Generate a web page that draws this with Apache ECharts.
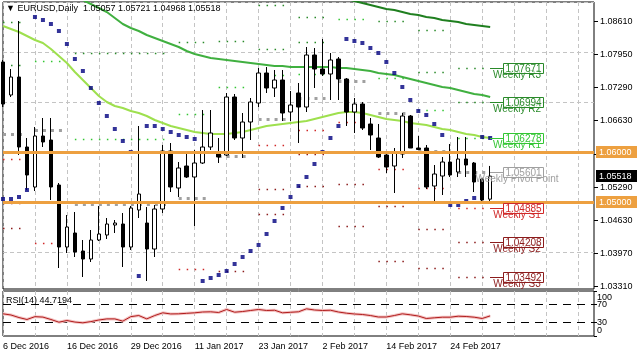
<!DOCTYPE html>
<html><head><meta charset="utf-8">
<script src="https://cdn.jsdelivr.net/npm/echarts@6/dist/echarts.min.js"></script>
<style>html,body{margin:0;padding:0;background:#fff}#c{width:637px;height:358px}</style>
</head><body><div id="c"></div>
<script>
// ---------------- DATA ----------------
const symbolName = 'EURUSD,Daily';
const categories = ['6 Dec 2016','7 Dec 2016','8 Dec 2016','9 Dec 2016','12 Dec 2016','13 Dec 2016','14 Dec 2016','15 Dec 2016','16 Dec 2016','19 Dec 2016',
 '20 Dec 2016','21 Dec 2016','22 Dec 2016','23 Dec 2016','27 Dec 2016','28 Dec 2016','29 Dec 2016','30 Dec 2016','3 Jan 2017','4 Jan 2017',
 '5 Jan 2017','6 Jan 2017','9 Jan 2017','10 Jan 2017','11 Jan 2017','12 Jan 2017','13 Jan 2017','16 Jan 2017','17 Jan 2017','18 Jan 2017',
 '19 Jan 2017','20 Jan 2017','23 Jan 2017','24 Jan 2017','25 Jan 2017','26 Jan 2017','27 Jan 2017','30 Jan 2017','31 Jan 2017','1 Feb 2017',
 '2 Feb 2017','3 Feb 2017','6 Feb 2017','7 Feb 2017','8 Feb 2017','9 Feb 2017','10 Feb 2017','13 Feb 2017','14 Feb 2017','15 Feb 2017',
 '16 Feb 2017','17 Feb 2017','20 Feb 2017','21 Feb 2017','22 Feb 2017','23 Feb 2017','24 Feb 2017','27 Feb 2017','28 Feb 2017','1 Mar 2017',
 '2 Mar 2017','3 Mar 2017','6 Mar 2017','7 Mar 2017','8 Mar 2017','9 Mar 2017','10 Mar 2017','13 Mar 2017','14 Mar 2017','15 Mar 2017',
 '16 Mar 2017','17 Mar 2017','20 Mar 2017','21 Mar 2017','22 Mar 2017'];
const dateLabels = ['6 Dec 2016','16 Dec 2016','29 Dec 2016','11 Jan 2017','23 Jan 2017','2 Feb 2017','14 Feb 2017','24 Feb 2017'];

const opens = [1.0780,1.0714,1.0750,1.0610,1.0530,1.0632,1.0624,1.0534,1.0410,1.0438,
 1.0402,1.0386,1.0424,1.0434,1.0454,1.0456,1.0410,1.0484,1.0458,1.0406,
 1.0486,1.0602,1.0528,1.0572,1.0550,1.0578,1.0610,1.0598,1.0594,1.0710,
 1.0628,1.0660,1.0698,1.0758,1.0728,1.0744,1.0680,1.0718,1.0690,1.0794,
 1.0766,1.0756,1.0786,1.0746,1.0680,1.0696,1.0656,1.0628,1.0594,1.0572,
 1.0596,1.0672,1.0608,1.0608,1.0532,1.0552,1.0580,1.0560,1.0586,1.0578,
 1.0546,1.05057];
const closes = [1.0696,1.0750,1.0610,1.0554,1.0632,1.0620,1.0530,1.0410,1.0450,1.0400,
 1.0386,1.0424,1.0436,1.0456,1.0458,1.0410,1.0488,1.0516,1.0406,1.0486,
 1.0602,1.0530,1.0568,1.0550,1.0578,1.0610,1.0638,1.0590,1.0710,1.0628,
 1.0660,1.0700,1.0758,1.0728,1.0744,1.0678,1.0694,1.0690,1.0794,1.0766,
 1.0756,1.0784,1.0746,1.0680,1.0696,1.0648,1.0634,1.0590,1.0570,1.0598,
 1.0672,1.0608,1.0605,1.0530,1.0556,1.0580,1.0554,1.0586,1.0574,1.0540,
 1.0504,1.05518];
const lows = [1.0690,1.0710,1.0594,1.0524,1.0522,1.0610,1.0504,1.0368,1.0398,1.0390,
 1.0350,1.0380,1.0422,1.0426,1.0438,1.0370,1.0404,1.0468,1.0342,1.0390,
 1.0478,1.0520,1.0510,1.0548,1.0452,1.0576,1.0604,1.0578,1.0592,1.0624,
 1.0588,1.0624,1.0690,1.0718,1.0710,1.0662,1.0662,1.0618,1.0680,1.0728,
 1.0752,1.0704,1.0704,1.0652,1.0638,1.0644,1.0604,1.0588,1.0558,1.0518,
 1.0588,1.0608,1.0604,1.0526,1.0502,1.0514,1.0550,1.0550,1.0550,1.0520,
 1.0502,1.04968];
const highs = [1.0784,1.0766,1.0862,1.0628,1.0650,1.0668,1.0668,1.0538,1.0474,1.0480,
 1.0424,1.0444,1.0492,1.0468,1.0464,1.0478,1.0492,1.0652,1.0490,1.0494,
 1.0614,1.0618,1.0580,1.0600,1.0604,1.0684,1.0684,1.0628,1.0718,1.0716,
 1.0678,1.0708,1.0768,1.0770,1.0764,1.0764,1.0722,1.0738,1.0810,1.0808,
 1.0826,1.0798,1.0790,1.0748,1.0708,1.0700,1.0668,1.0656,1.0600,1.0608,
 1.0678,1.0674,1.0632,1.0614,1.0574,1.0590,1.0616,1.0630,1.0630,1.0580,
 1.0548,1.05721];

const sar = [1.0506,1.0506,1.0510,1.0524,1.0870,1.0864,1.0856,1.0842,1.0816,1.0786,
 1.0762,1.0728,1.0698,1.0672,1.0646,1.0622,1.0600,1.0352,1.0652,1.0652,
 1.0646,1.0640,1.0634,1.0630,1.0626,1.0342,1.0348,1.0354,1.0362,1.0376,
 1.0390,1.0402,1.0414,1.0436,1.0462,1.0488,1.0510,1.0532,1.0550,1.0576,
 1.0600,1.0628,1.0652,1.0826,1.0822,1.0818,1.0808,1.0798,1.0780,1.0758,
 1.0730,1.0704,1.0682,1.0674,1.0656,1.0634,1.0494,1.0494,1.0502,1.0508,
 1.0630,1.0628];

const maFast = [1.0852,1.0846,1.0840,1.0832,1.0824,1.0818,1.0806,1.0792,1.0778,1.0760,
 1.0744,1.0728,1.0712,1.0700,1.0692,1.0688,1.0682,1.0678,1.0672,1.0664,
 1.0658,1.0652,1.0648,1.0644,1.0640,1.0638,1.0636,1.0636,1.0636,1.0638,
 1.0640,1.0644,1.0648,1.0652,1.0654,1.0656,1.0658,1.0660,1.0662,1.0666,
 1.0670,1.0674,1.0678,1.0680,1.0680,1.0678,1.0674,1.0670,1.0666,1.0664,
 1.0662,1.0658,1.0656,1.0654,1.0650,1.0646,1.0644,1.0640,1.0636,1.0634,
 1.0630,1.0628];
const maMid = [null,null,null,null,null,null,null,null,null,1.0910,
 1.0904,1.0896,1.0888,1.0880,1.0868,1.0856,1.0848,1.0842,1.0834,1.0828,
 1.0822,1.0816,1.0810,1.0802,1.0796,1.0792,1.0788,1.0786,1.0784,1.0782,
 1.0780,1.0778,1.0776,1.0774,1.0772,1.0772,1.0770,1.0770,1.0770,1.0770,
 1.0770,1.0770,1.0768,1.0768,1.0766,1.0764,1.0762,1.0758,1.0756,1.0754,
 1.0750,1.0746,1.0742,1.0738,1.0734,1.0730,1.0728,1.0724,1.0720,1.0716,
 1.0714,1.0710];
const maSlow = [null,null,null,null,null,null,null,null,null,null,
 null,null,null,null,null,null,null,null,null,null,
 null,null,null,null,null,null,null,null,null,null,
 null,null,null,null,null,null,null,null,null,null,
 null,null,1.0910,1.0906,1.0902,1.0898,1.0894,1.0890,1.0886,1.0884,
 1.0880,1.0876,1.0874,1.0870,1.0868,1.0864,1.0862,1.0860,1.0856,1.0854,
 1.0852,1.0850];

const rsi = [49.3,46.7,41.0,36.7,43.0,42.0,36.7,30.7,34.4,31.0,
 29.3,32.0,35.5,38.0,38.0,33.0,43.0,45.5,38.0,45.5,
 51.5,49.0,49.3,50.4,51.5,53.3,53.8,52.2,58.9,52.9,
 54.4,56.7,58.9,56.7,57.3,51.5,52.7,53.8,60.4,57.8,
 56.7,57.3,53.3,50.7,48.9,47.8,45.5,42.2,42.2,45.5,
 49.3,47.1,44.4,38.9,40.4,41.8,41.8,44.0,43.3,41.8,
 38.9,44.7194];

// weekly pivot segments (first bar, last bar of each week)
const pivotStarts = [0,4,9,22,27,32,37,42,47,52,57];
const pivotEnds   = [3,8,21,26,31,36,41,46,51,56,61];
const pivR3 = [1.0860,null,null,null,null,1.0894,1.0870,null,null,1.0844,1.07671];
const pivR2 = [1.0774,null,1.0798,1.0820,1.0822,1.0806,1.0820,null,1.0862,1.0760,1.06994];
const pivR1 = [1.0724,1.0782,1.0626,1.0676,1.0730,1.0754,1.0756,1.0866,1.0748,1.0684,1.06278];
const pivPP = [1.0636,1.0644,1.0496,1.0508,1.0592,1.0666,1.0708,1.0742,1.0678,1.0602,1.05601];
const pivS1 = [1.0586,1.0418,null,1.0366,1.0500,1.0614,1.0644,1.0660,1.0566,1.0528,1.04885];
const pivS2 = [1.0498,null,null,null,1.0362,1.0526,1.0596,1.0536,1.0492,1.0446,1.04208];
const pivS3 = [1.0448,null,null,null,null,1.0476,1.0532,1.0452,1.0382,1.0368,1.03492];
const pivotLabelValues = [1.07671,1.06994,1.06278,1.05601,1.04885,1.04208,1.03492];
const pivotLabelNames = ['Weekly R3','Weekly R2','Weekly R1','Weekly Pivot Point','Weekly S1','Weekly S2','Weekly S3'];

const priceTicks = [1.0331,1.0397,1.0463,1.0529,1.0596,1.0663,1.0729,1.0795,1.0861];
const priceLabelTicks = [1.0331,1.0397,1.0463,1.0529,1.0663,1.0729,1.0795,1.0861];
const roundLevels = [1.06000,1.05000];
const lastPrice = 1.05518;
const rsiTicks = [0,30,70,100];
const rsiLevels = [30,70];

// ---------------- CHART ----------------
const FONT = '"Liberation Sans", Arial, sans-serif';
const last = closes.length - 1;
const lastCat = categories.length - 1;
const pivotColors = ['#2a8a2a','#2a8a2a','#33c633','#a0a0a0','#d02828','#8c1c1c','#8c1c1c'];
const pivotLevels = [pivR3,pivR2,pivR1,pivPP,pivS1,pivS2,pivS3];
const segData = [];
pivotLevels.forEach((arr, li) => arr.forEach((v, wi) => {
  if (v != null) segData.push([pivotStarts[wi], pivotEnds[wi], v, li]);
}));
const candleData = opens.map((o, i) => [o, closes[i], lows[i], highs[i]]);
const mainTitle = '\u25BC ' + symbolName + '  ' +
  [opens[last], highs[last], lows[last], closes[last]].map(v => v.toFixed(5)).join(' ');
const tagData = roundLevels.map(v => [lastCat, v, 0]).concat([[lastCat, lastPrice, 1]]);
const tagColors = ['#eda040', '#000000'];

const chart = echarts.init(document.getElementById('c'), null, {renderer: 'canvas'});
const gridLine = {color: '#c4c4c4', type: [4, 3], width: 1};
const rsiLabelShift = {100: 7, 70: 0, 30: 0, 0: -5};

chart.setOption({
  animation: false,
  backgroundColor: '#fff',
  textStyle: {fontFamily: FONT},
  title: [
    {text: mainTitle, left: 6, top: 4, padding: 0,
     textStyle: {fontSize: 9, fontWeight: 'normal', color: '#000', fontFamily: FONT}},
    {text: 'RSI(14) ' + rsi[last].toFixed(4), left: 6, top: 296, padding: 0,
     textStyle: {fontSize: 9, fontWeight: 'normal', color: '#000', fontFamily: FONT}}
  ],
  grid: [
    {left: 3, right: 43, top: 2, height: 287, show: true, borderColor: '#000', borderWidth: 1, backgroundColor: '#fff'},
    {left: 3, right: 43, top: 291, height: 45, show: true, borderColor: '#000', borderWidth: 1, backgroundColor: '#fff'}
  ],
  xAxis: [
    {gridIndex: 0, type: 'category', data: categories, boundaryGap: false,
     axisLine: {show: false}, axisTick: {show: false}, axisLabel: {show: false},
     splitLine: {show: true, interval: 3, lineStyle: gridLine}},
    {gridIndex: 1, type: 'category', data: categories, boundaryGap: false,
     axisLine: {show: false}, axisTick: {show: false},
     axisLabel: {show: true, interval: (idx, val) => dateLabels.indexOf(val) >= 0,
       align: 'left', color: '#000', fontSize: 9, fontFamily: FONT, margin: 6},
     splitLine: {show: true, interval: 3, lineStyle: gridLine}}
  ],
  yAxis: [
    {gridIndex: 0, type: 'value', position: 'right', min: 1.0326, max: 1.09,
     axisLine: {show: false}, splitLine: {show: false},
     axisTick: {show: true, customValues: priceTicks, length: 4, lineStyle: {color: '#000'}},
     axisLabel: {show: true, customValues: priceLabelTicks, formatter: v => Number(v).toFixed(5),
       color: '#000', fontSize: 9, fontFamily: FONT, margin: 6}},
    {gridIndex: 1, type: 'value', position: 'right', min: 0, max: 100,
     axisLine: {show: false}, splitLine: {show: false},
     axisTick: {show: true, customValues: rsiTicks, length: 3, lineStyle: {color: '#000'}},
     axisLabel: {show: false}}
  ],
  series: [
    // horizontal grid lines
    {type: 'line', xAxisIndex: 0, yAxisIndex: 0, data: [], z: 1, silent: true,
     markLine: {silent: true, symbol: 'none', z: 1, label: {show: false},
       lineStyle: gridLine, data: priceTicks.map(v => ({yAxis: v}))}},
    // current price line (behind candles)
    {type: 'line', xAxisIndex: 0, yAxisIndex: 0, data: [], z: 2, silent: true,
     markLine: {silent: true, symbol: 'none', z: 2, label: {show: false},
       lineStyle: {color: '#c0c0c0', width: 1, type: 'solid'},
       data: [{yAxis: lastPrice}]}},
    // weekly pivot dotted segments
    {type: 'custom', xAxisIndex: 0, yAxisIndex: 0, data: segData, encode: {x: [0, 1], y: 2},
     z: 2, silent: true, clip: true,
     renderItem: (params, api) => {
       const li = api.value(3);
       const a = api.coord([api.value(0), api.value(2)]);
       const b = api.coord([api.value(1), api.value(2)]);
       const pp = li === 3;
       const y = Math.round(a[1]) + 0.5;
       return {type: 'line', shape: {x1: a[0], y1: y, x2: b[0], y2: y},
         style: {stroke: pivotColors[li], lineWidth: pp ? 3 : 1.5, lineDash: pp ? [3, 5] : [1.5, 6.5]}};
     }},
    // moving averages
    {type: 'line', name: 'MA slow', xAxisIndex: 0, yAxisIndex: 0, data: maSlow, symbol: 'none', z: 3,
     lineStyle: {color: '#1f7f1f', width: 2}, silent: true},
    {type: 'line', name: 'MA mid', xAxisIndex: 0, yAxisIndex: 0, data: maMid, symbol: 'none', z: 3,
     lineStyle: {color: '#40b040', width: 2}, silent: true},
    {type: 'line', name: 'MA fast', xAxisIndex: 0, yAxisIndex: 0, data: maFast, symbol: 'none', z: 3,
     lineStyle: {color: '#9ee04e', width: 2}, silent: true},
    // candles
    {type: 'candlestick', xAxisIndex: 0, yAxisIndex: 0, data: candleData, barWidth: 4, z: 4, clip: false,
     itemStyle: {color: '#fff', color0: '#000', borderColor: '#000', borderColor0: '#000', borderWidth: 1}},
    // parabolic SAR
    {type: 'scatter', xAxisIndex: 0, yAxisIndex: 0, data: sar, symbol: 'rect', symbolSize: 4, z: 5,
     itemStyle: {color: '#000080'}, silent: true},
    // round number lines
    {type: 'line', xAxisIndex: 0, yAxisIndex: 0, data: [], z: 6, silent: true,
     markLine: {silent: true, symbol: 'none', z: 6, label: {show: false},
       lineStyle: {color: '#eda040', width: 3, type: 'solid'},
       data: roundLevels.map(v => ({yAxis: v}))}},
    // price tags on the right scale
    {type: 'custom', xAxisIndex: 0, yAxisIndex: 0, data: tagData, encode: {x: 0, y: 1},
     z: 9, silent: true, clip: false,
     renderItem: (params, api) => {
       const p = api.coord([api.value(0), api.value(1)]);
       const x = Math.round(p[0]) + 2, y = Math.round(p[1]);
       const bg = tagColors[api.value(2)];
       return {type: 'group', children: [
         {type: 'rect', shape: {x: x, y: y - 6, width: 41, height: 12}, style: {fill: bg}},
         {type: 'text', style: {text: api.value(1).toFixed(5), x: x + 3, y: y + 0.5, align: 'left', verticalAlign: 'middle',
           fill: '#fff', font: '9px ' + FONT}}
       ]};
     }},
    // weekly pivot labels
    {type: 'custom', xAxisIndex: 0, yAxisIndex: 0, data: pivotLabelValues.map((v, i) => [last, v, i]),
     encode: {x: 0, y: 1}, z: 7, silent: true, clip: false,
     renderItem: (params, api) => {
       const li = api.value(2);
       const p = api.coord([api.value(0), api.value(1)]);
       const x = Math.round(p[0]), y = Math.round(p[1]) + 0.5;
       const c = pivotColors[li];
       return {type: 'group', children: [
         {type: 'text', style: {text: pivotLabelNames[li], x: x + 27, y: y + 7, align: 'center', verticalAlign: 'middle',
           fill: c, font: '10px ' + FONT}},
         {type: 'line', shape: {x1: x, y1: y, x2: x + 13, y2: y}, style: {stroke: c, lineWidth: 1}},
         {type: 'rect', shape: {x: x + 13.5, y: y - 5, width: 40, height: 10}, style: {fill: 'rgba(255,255,255,0.6)', stroke: c, lineWidth: 1}},
         {type: 'text', style: {text: api.value(1).toFixed(5), x: x + 33.5, y: y + 0.5, align: 'center', verticalAlign: 'middle',
           fill: c, font: '10px ' + FONT}}
       ]};
     }},
    // RSI
    {type: 'line', xAxisIndex: 1, yAxisIndex: 1, data: rsi, symbol: 'none', z: 3, silent: true,
     lineStyle: {color: '#f4c4c4', width: 3}},
    {type: 'line', xAxisIndex: 1, yAxisIndex: 1, data: rsi, symbol: 'none', z: 4, silent: true,
     lineStyle: {color: '#b01c1c', width: 1},
     markLine: {silent: true, symbol: 'none', z: 2, label: {show: false},
       lineStyle: {color: '#000', width: 1, type: [8, 6]}, data: rsiLevels.map(v => ({yAxis: v}))}},
    // RSI scale labels (placed on the RSI value scale)
    {type: 'custom', xAxisIndex: 1, yAxisIndex: 1, data: rsiTicks.map(v => [lastCat, v]),
     encode: {x: 0, y: 1}, z: 8, silent: true, clip: false,
     renderItem: (params, api) => {
       const v = api.value(1);
       const p = api.coord([api.value(0), v]);
       return {type: 'text', style: {text: String(v), x: p[0] + 3, y: p[1] + rsiLabelShift[v],
         align: 'left', verticalAlign: 'middle', fill: '#000', font: '9px ' + FONT}};
     }}
  ]
});
</script>
</body></html>
